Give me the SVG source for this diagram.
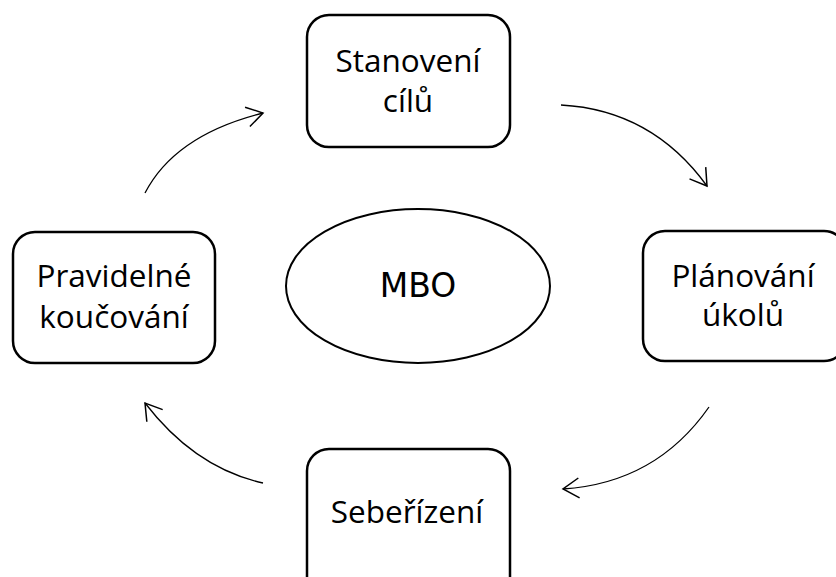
<svg xmlns="http://www.w3.org/2000/svg" width="836" height="577" viewBox="0 0 836 577">
<defs>
<style>
.box{fill:#fff;stroke:#000;stroke-width:2.5}
.lbl{font-family:"Open Sans","Noto Sans",sans-serif;font-size:31.5px;fill:#000;text-anchor:middle}
.mbo{font-family:"DejaVu Sans",Verdana,sans-serif;font-size:33px;fill:#000;text-anchor:middle}
.arc{fill:none;stroke:#000;stroke-width:1.3;marker-end:url(#ah)}
</style>
<marker id="ah" markerUnits="userSpaceOnUse" viewBox="-18 -12 20 24" refX="0" refY="0" markerWidth="20" markerHeight="24" orient="auto">
<path d="M-16,-10 L0,0 L-16,10" fill="none" stroke="#000" stroke-width="1.5"/>
</marker>
</defs>
<rect width="836" height="577" fill="#fff"/>
<g id="connectors">
<path class="arc" d="M561,105 Q652,110 707,186"/>
<path class="arc" d="M709,407 Q656,483 563,489"/>
<path class="arc" d="M263,483 Q195,468 145,403"/>
<path class="arc" d="M145,193 Q175,135 263,113"/>
</g>
<g id="mbo">
<ellipse cx="418" cy="286" rx="132" ry="77" fill="#fff" stroke="#000" stroke-width="2"/>
<text class="mbo" x="418" y="297">MBO</text>
</g>
<g id="stanoveni">
<rect class="box" x="307" y="15" width="203" height="132" rx="22"/>
<text class="lbl" x="408" y="72">Stanovení</text>
<text class="lbl" x="408" y="112">cílů</text>
</g>
<g id="planovani">
<rect class="box" x="643" y="231" width="203" height="130" rx="22"/>
<text class="lbl" x="743" y="287">Plánování</text>
<text class="lbl" x="743" y="326">úkolů</text>
</g>
<g id="seberizeni">
<rect class="box" x="307" y="449" width="203" height="150" rx="22"/>
<text class="lbl" x="407" y="523">Sebeřízení</text>
</g>
<g id="koucovani">
<rect class="box" x="13" y="232" width="202" height="131" rx="22"/>
<text class="lbl" x="114" y="287">Pravidelné</text>
<text class="lbl" x="114" y="328">koučování</text>
</g>
</svg>
